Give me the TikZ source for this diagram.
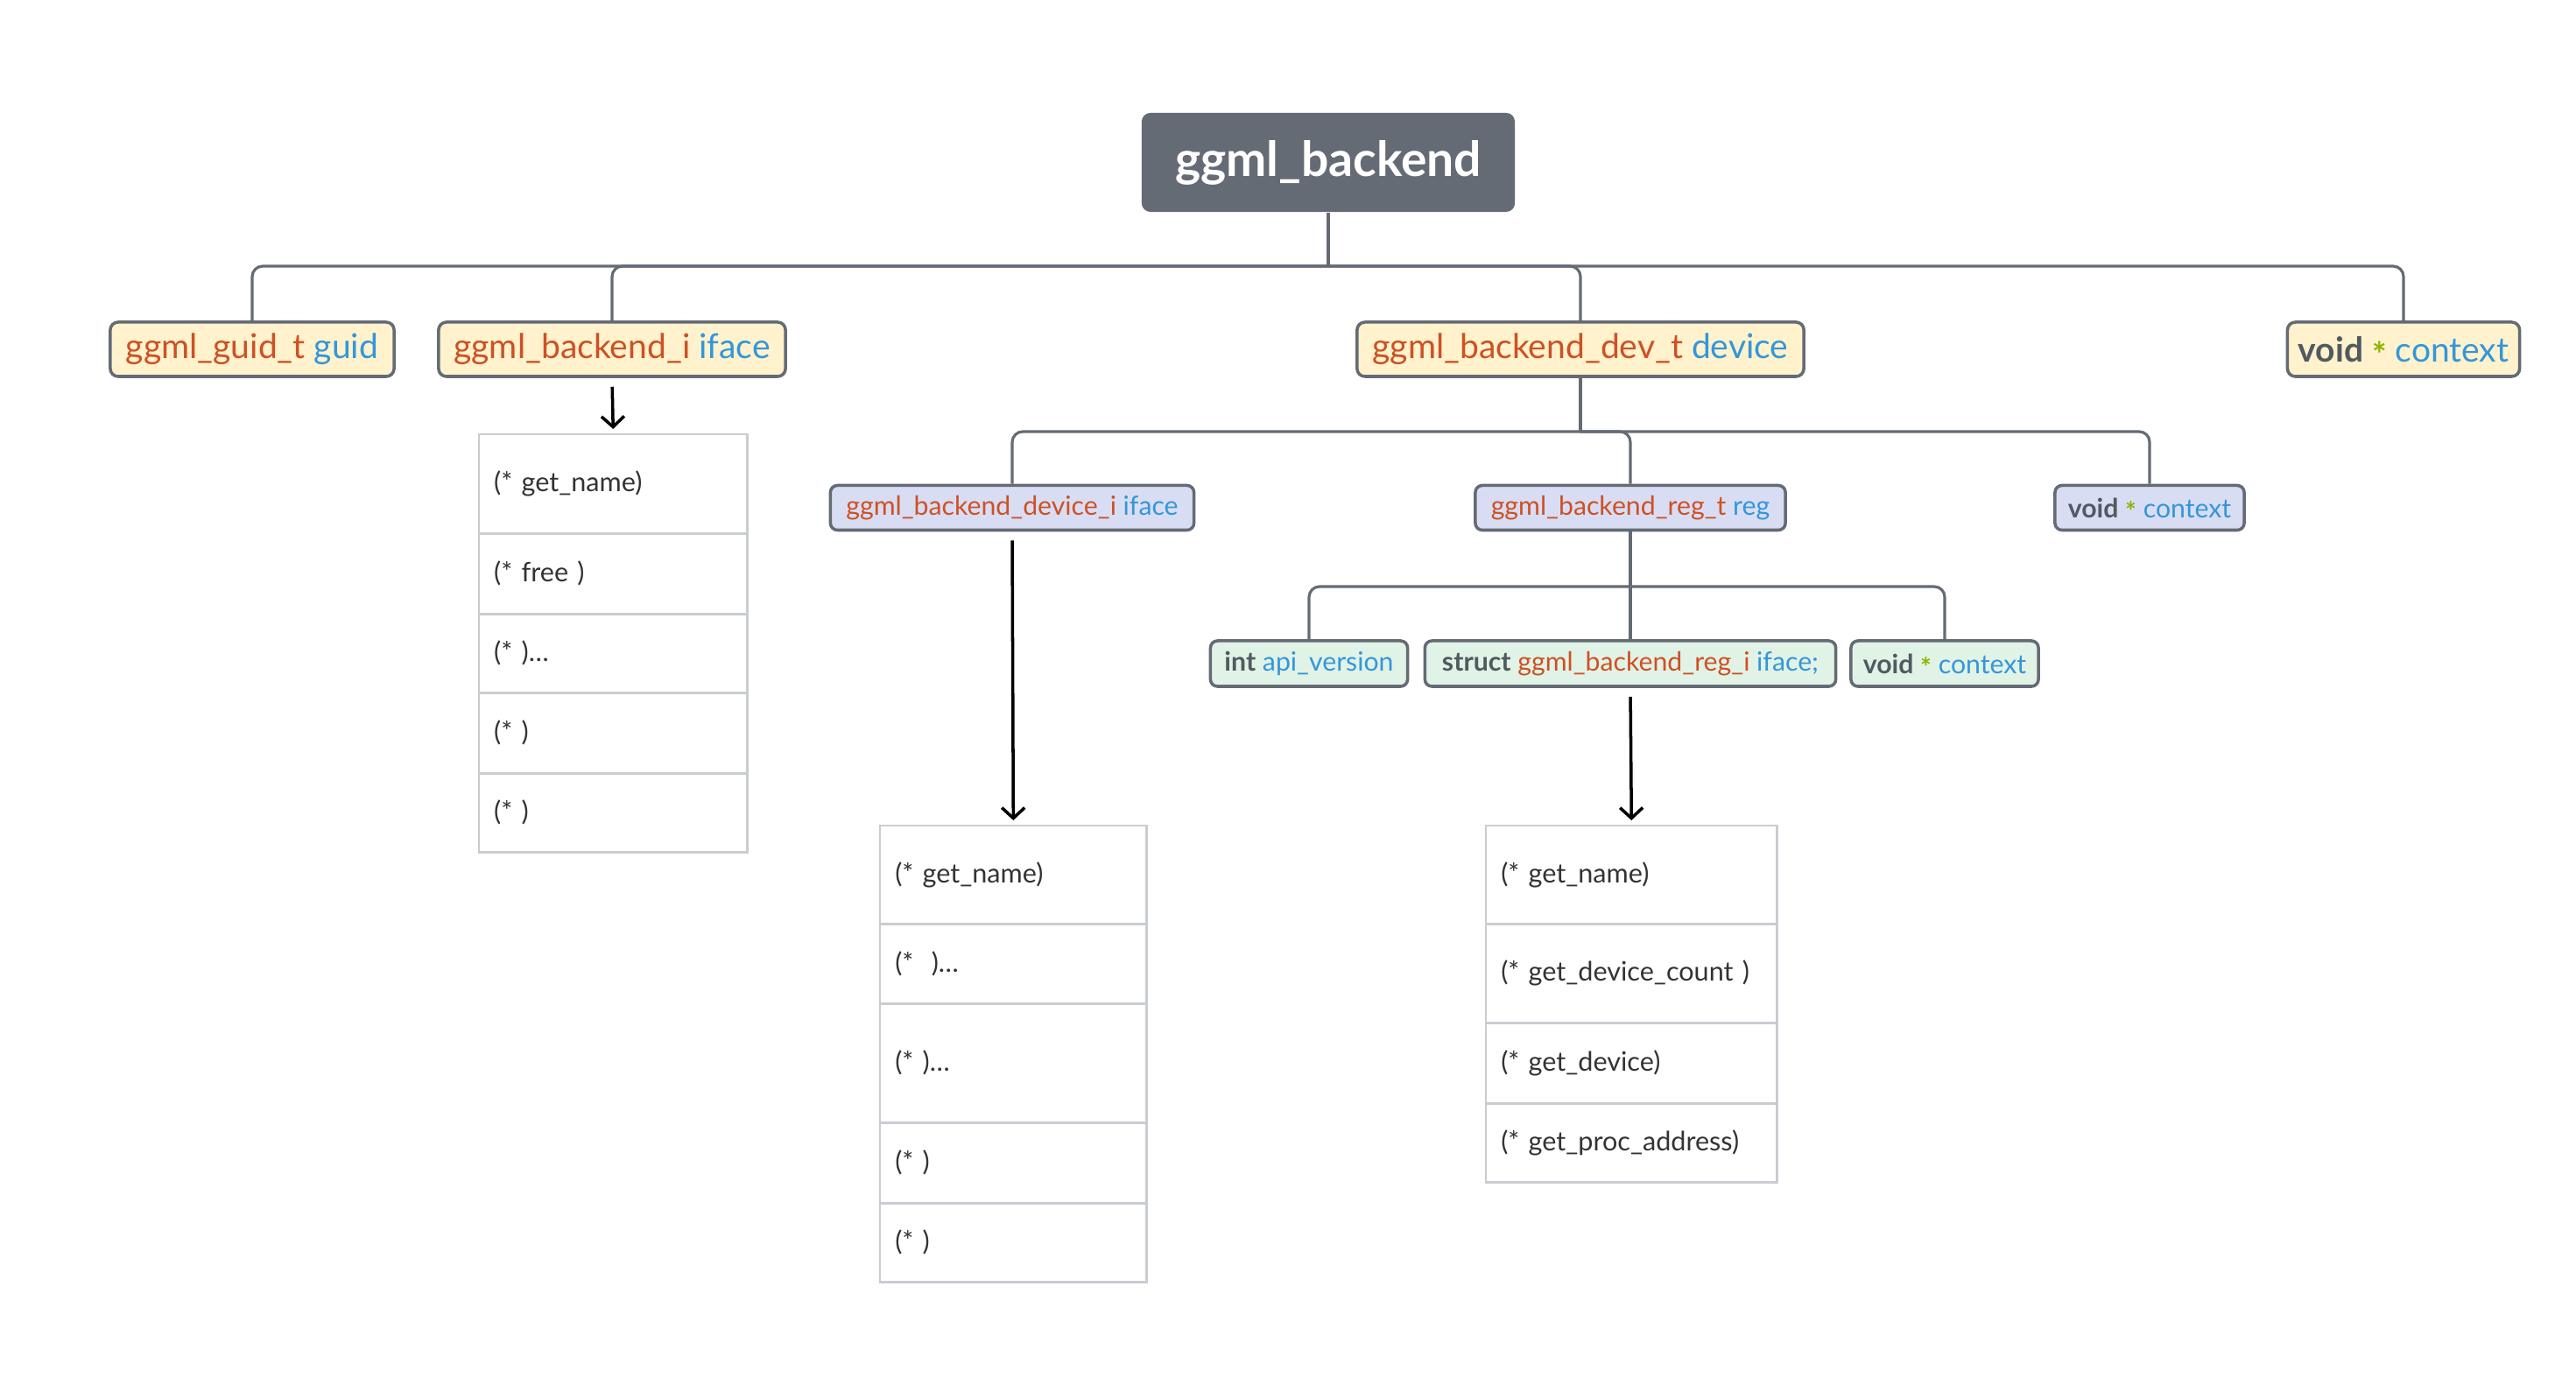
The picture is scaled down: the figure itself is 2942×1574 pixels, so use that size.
\documentclass[tikz,border=0pt]{standalone}
\usepackage{fontspec}
\setmainfont{Lato}
\usetikzlibrary{arrows.meta}
\definecolor{boxline}{HTML}{646B75}
\definecolor{rootfill}{HTML}{646B75}
\definecolor{yfill}{HTML}{FFF2CC}
\definecolor{lfill}{HTML}{D9DDF4}
\definecolor{gfill}{HTML}{E1F3E6}
\definecolor{ora}{HTML}{CD5124}
\definecolor{blu}{HTML}{3496DA}
\definecolor{kw}{HTML}{505A60}
\definecolor{ast}{HTML}{8DB500}
\definecolor{tline}{HTML}{C9CDD2}
\definecolor{ttext}{HTML}{333333}
\newcommand{\bigast}{{\color{ast}\smash{\raisebox{-0.3ex}{\bfseries *}}}}
\begin{document}
\begin{tikzpicture}[x=0.01cm,y=-0.01cm,
  rootbox/.style={fill=rootfill, draw=none, rounded corners=0.1cm, inner sep=0pt,
    text=white, font=\fontsize{15.7pt}{18pt}\selectfont\bfseries},
  lone/.style={draw=boxline, line width=1pt, fill=yfill, rounded corners=0.09cm, inner sep=0pt,
    minimum height=0.62cm, font=\fontsize{11.1pt}{13pt}\selectfont},
  ltwo/.style={draw=boxline, line width=1pt, fill=lfill, rounded corners=0.08cm, inner sep=0pt,
    minimum height=0.51cm, font=\fontsize{8.6pt}{10pt}\selectfont},
  lthree/.style={draw=boxline, line width=1pt, fill=gfill, rounded corners=0.08cm, inner sep=0pt,
    minimum height=0.52cm, font=\fontsize{8.6pt}{10pt}\selectfont},
  tree/.style={draw=boxline, line width=0.9pt, rounded corners=0.12cm},
  stem/.style={draw=boxline, line width=0.9pt},
  trow/.style={draw=tline, line width=0.7pt, anchor=north west, inner xsep=0.17cm, inner ysep=0pt,
    align=left, text=ttext, font=\fontsize{8.7pt}{10pt}\selectfont},
  arr/.style={draw=black, line width=1pt, -{Straight Barb[length=0.12cm,width=0.26cm,line width=1pt]}}
]
\useasboundingbox (0,0) rectangle (2942,1574);

% root
\node[rootbox, minimum width=4.26cm, minimum height=1.13cm] (root) at (1517,185.5) {ggml\_backend};

% bars
\coordinate (bar1) at (0,304);
\coordinate (bar2) at (0,493);
\coordinate (bar3) at (0,670);

% level 1
\node[lone, minimum width=3.24cm] (guid) at (288,399) {\color{ora}ggml\_guid\_t \color{blu}guid};
\node[lone, minimum width=3.96cm] (biface) at (699,399) {\color{ora}ggml\_backend\_i \color{blu}iface};
\node[lone, minimum width=5.10cm] (device) at (1805,399) {\color{ora}ggml\_backend\_dev\_t \color{blu}device};
\node[lone, minimum width=2.65cm] (ctxa) at (2745,399) {{\bfseries\color{kw}void} \bigast{} {\color{blu}context}};

% level 2
\node[ltwo, minimum width=4.15cm] (devi) at (1156,580) {\color{ora}ggml\_backend\_device\_i \color{blu}iface};
\node[ltwo, minimum width=3.54cm] (reg) at (1862,580) {\color{ora}ggml\_backend\_reg\_t \color{blu}reg};
\node[ltwo, minimum width=2.16cm] (ctxb) at (2455,580) {{\bfseries\color{kw}void} \bigast{} {\color{blu}context}};

% level 3
\node[lthree, minimum width=2.25cm] (api) at (1495,758) {{\bfseries\color{kw}int} {\color{blu}api\_version}};
\node[lthree, minimum width=4.69cm] (sreg) at (1862,758) {{\bfseries\color{kw}struct} {\color{ora}ggml\_backend\_reg\_i} {\color{blu}iface;}};
\node[lthree, minimum width=2.14cm] (ctxc) at (2221,758) {{\bfseries\color{kw}void} \bigast{} {\color{blu}context}};

% tree connectors
\draw[stem] (root.south) -- (root.south |- bar1);
\draw[tree] (root.south |- bar1) -| (guid.north);
\draw[tree] (root.south |- bar1) -| (biface.north);
\draw[tree] (root.south |- bar1) -| (device.north);
\draw[tree] (root.south |- bar1) -| (ctxa.north);
\draw[stem] (device.south) -- (device.south |- bar2);
\draw[tree] (device.south |- bar2) -| (devi.north);
\draw[tree] (device.south |- bar2) -| (reg.north);
\draw[tree] (device.south |- bar2) -| (ctxb.north);
\draw[stem] (reg.south) -- (sreg.north);
\draw[tree] (reg.south |- bar3) -| (api.north);
\draw[tree] (reg.south |- bar3) -| (ctxc.north);

% table 1
\node[trow, text width=2.72cm, minimum height=1.13cm] (ta) at (546,495) {(* get\_name)};
\node[trow, text width=2.72cm, minimum height=0.92cm] (tb) at (546,608) {(* free )};
\node[trow, text width=2.72cm, minimum height=0.90cm] (tc) at (546,700) {(* )…};
\node[trow, text width=2.72cm, minimum height=0.92cm] (td) at (546,790) {(* )};
\node[trow, text width=2.72cm, minimum height=0.90cm] (te) at (546,882) {(* )};

% table 2
\node[trow, text width=2.70cm, minimum height=1.12cm] (ua) at (1004,942) {(* get\_name)};
\node[trow, text width=2.70cm, minimum height=0.91cm] (ub) at (1004,1054) {(*\ \ )…};
\node[trow, text width=2.70cm, minimum height=1.36cm] (uc) at (1004,1145) {(* )…};
\node[trow, text width=2.70cm, minimum height=0.92cm] (ud) at (1004,1281) {(* )};
\node[trow, text width=2.70cm, minimum height=0.90cm] (ue) at (1004,1373) {(* )};

% table 3
\node[trow, text width=2.98cm, minimum height=1.12cm] (va) at (1696,942) {(* get\_name)};
\node[trow, text width=2.98cm, minimum height=1.13cm] (vb) at (1696,1054) {(* get\_device\_count )};
\node[trow, text width=2.98cm, minimum height=0.92cm] (vc) at (1696,1167) {(* get\_device)};
\node[trow, text width=2.98cm, minimum height=0.90cm] (vd) at (1696,1259) {(* get\_proc\_address)};

% arrows
\draw[arr, shorten <=0.1cm, shorten >=0.05cm] (biface.south) -- (ta.north);
\draw[arr, shorten <=0.1cm, shorten >=0.05cm] (devi.south) -- (ua.north);
\draw[arr, shorten <=0.1cm, shorten >=0.05cm] (sreg.south) -- (va.north);
\end{tikzpicture}
\end{document}
